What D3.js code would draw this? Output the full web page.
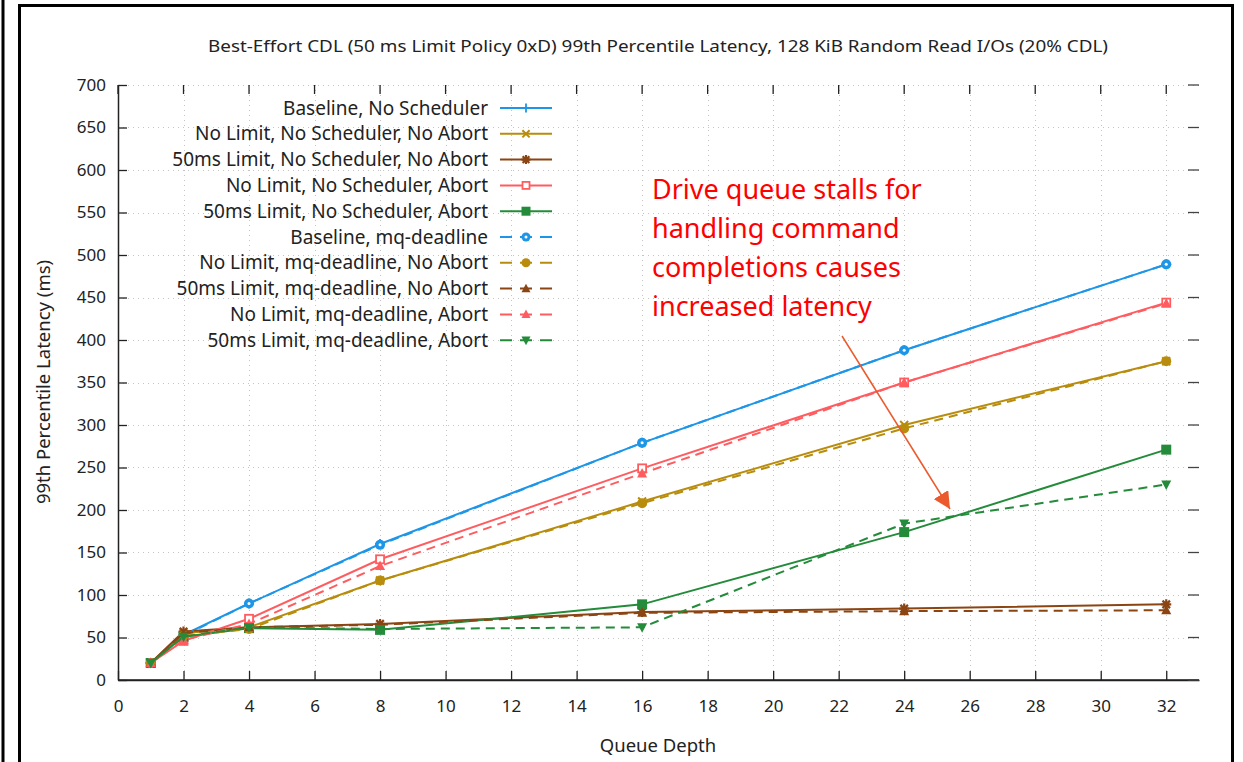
<!DOCTYPE html>
<html>
<head>
<meta charset="utf-8">
<script src="https://cdn.jsdelivr.net/npm/d3@7"></script>
<style>
  body { margin: 0; background: #fff; }
  text { font-family: "Noto Sans", "DejaVu Sans", sans-serif; fill: #222; }
</style>
</head>
<body>
<div class="chart"></div>
<script>
// Queue depths (x values)
const depths = [1, 2, 4, 8, 16, 24, 32];

// 99th percentile latency (ms), one array per series
const baseNoSched = [20, 53, 90, 160, 279, 388, 489];
const noLimNoSchedNoAbort = [20, 55, 62, 117, 210, 300, 375];
const lim50NoSchedNoAbort = [20, 57, 62, 66, 80, 84, 89];
const noLimNoSchedAbort = [20, 46, 72, 142, 249, 350, 444];
const lim50NoSchedAbort = [20, 51, 61, 59, 89, 174, 271];
const baseMq = [20, 52, 90, 159, 279, 388, 489];
const noLimMqNoAbort = [20, 52, 60, 117, 208, 296, 375];
const lim50MqNoAbort = [20, 55, 62, 65, 79, 81, 82];
const noLimMqAbort = [20, 47, 66, 134, 243, 350, 443];
const lim50MqAbort = [20, 51, 62, 60, 62, 184, 230];

const seriesNames = [
  'Baseline, No Scheduler',
  'No Limit, No Scheduler, No Abort',
  '50ms Limit, No Scheduler, No Abort',
  'No Limit, No Scheduler, Abort',
  '50ms Limit, No Scheduler, Abort',
  'Baseline, mq-deadline',
  'No Limit, mq-deadline, No Abort',
  '50ms Limit, mq-deadline, No Abort',
  'No Limit, mq-deadline, Abort',
  '50ms Limit, mq-deadline, Abort',
];
const seriesValues = [
  baseNoSched, noLimNoSchedNoAbort, lim50NoSchedNoAbort, noLimNoSchedAbort, lim50NoSchedAbort,
  baseMq, noLimMqNoAbort, lim50MqNoAbort, noLimMqAbort, lim50MqAbort,
];

// Axis ticks
const xTicks = d3.range(0, 33, 2);
const yTicks = d3.range(0, 701, 50);

// Style per series
const blue = '#1e96e8', gold = '#b88c0c', brown = '#8b4513', pink = '#ff5c60', green = '#238b3a';
const styles = [
  { color: blue, dash: null, marker: 'plus' },
  { color: gold, dash: null, marker: 'cross' },
  { color: brown, dash: null, marker: 'star' },
  { color: pink, dash: null, marker: 'openSquare' },
  { color: green, dash: null, marker: 'square' },
  { color: blue, dash: '9,6', marker: 'openCircle' },
  { color: gold, dash: '9,6', marker: 'circle' },
  { color: brown, dash: '9,6', marker: 'triangle' },
  { color: pink, dash: '9,6', marker: 'triangle' },
  { color: green, dash: '9,6', marker: 'triangleDown' },
];

const width = 1243;
const height = 762;
const margin = { left: 118, right: 1199, top: 85, bottom: 680 };

const svg = d3.select('.chart')
  .append('svg')
  .attr('width', width)
  .attr('height', height);

// Slide frame lines
svg.append('line')
  .attr('x1', 3).attr('x2', 3).attr('y1', 0).attr('y2', height)
  .attr('stroke', '#000').attr('stroke-width', 3);
svg.append('rect')
  .attr('x', 19.5).attr('y', 5.5).attr('width', 1213).attr('height', 770)
  .attr('fill', 'none').attr('stroke', '#000').attr('stroke-width', 3);

const x = d3.scaleLinear().domain([0, 33]).range([margin.left, margin.right]);
const y = d3.scaleLinear().domain([0, 700]).range([margin.bottom, margin.top]);

// Grid
const grid = svg.append('g').attr('stroke', '#c4c4c4').attr('stroke-width', 1)
  .attr('stroke-dasharray', '1,4');
grid.selectAll('line.gx').data(xTicks.slice(1)).enter().append('line')
  .attr('x1', d => Math.round(x(d)) + 0.5).attr('x2', d => Math.round(x(d)) + 0.5)
  .attr('y1', margin.top).attr('y2', margin.bottom);
grid.selectAll('line.gy').data(yTicks.slice(1)).enter().append('line')
  .attr('x1', margin.left).attr('x2', margin.right)
  .attr('y1', d => Math.round(y(d)) + 0.5).attr('y2', d => Math.round(y(d)) + 0.5);

// Axes (left + bottom), ticks mirrored on top + right
const xAxis = svg.append('g')
  .attr('transform', `translate(0,${margin.bottom})`)
  .call(d3.axisBottom(x).tickValues(xTicks).tickSizeInner(-9).tickSizeOuter(0).tickPadding(20));
const yAxis = svg.append('g')
  .attr('transform', `translate(${margin.left},0)`)
  .call(d3.axisLeft(y).tickValues(yTicks).tickSizeInner(-9).tickSizeOuter(0).tickPadding(12));
[xAxis, yAxis].forEach(ax => {
  ax.select('.domain').attr('stroke', '#222').attr('stroke-width', 1.5);
  ax.selectAll('.tick line').attr('stroke', '#222').attr('stroke-width', 1.3);
  ax.selectAll('.tick text').attr('font-size', 17).attr('fill', '#222')
    .attr('font-family', '"Noto Sans", sans-serif');
});
svg.append('line')
  .attr('x1', margin.left).attr('x2', margin.right)
  .attr('y1', margin.bottom).attr('y2', margin.bottom)
  .attr('stroke', '#222').attr('stroke-width', 1.5);
svg.append('g').selectAll('line').data(xTicks).enter().append('line')
  .attr('x1', d => x(d)).attr('x2', d => x(d))
  .attr('y1', margin.top).attr('y2', margin.top + 9)
  .attr('stroke', '#222').attr('stroke-width', 1.3);
svg.append('g').selectAll('line').data(yTicks).enter().append('line')
  .attr('x1', margin.right - 11).attr('x2', margin.right)
  .attr('y1', d => y(d)).attr('y2', d => y(d))
  .attr('stroke', '#444').attr('stroke-width', 1.3);

// Title and axis labels
svg.append('text')
  .attr('x', 658).attr('y', 52)
  .attr('text-anchor', 'middle')
  .attr('font-size', 16)
  .attr('textLength', 900)
  .attr('lengthAdjust', 'spacingAndGlyphs')
  .text('Best-Effort CDL (50 ms Limit Policy 0xD) 99th Percentile Latency, 128 KiB Random Read I/Os (20% CDL)');
svg.append('text')
  .attr('x', 658).attr('y', 752)
  .attr('text-anchor', 'middle')
  .attr('font-size', 18.5)
  .text('Queue Depth');
svg.append('text')
  .attr('transform', 'translate(50,382) rotate(-90)')
  .attr('text-anchor', 'middle')
  .attr('font-size', 18.5)
  .text('99th Percentile Latency (ms)');

// Marker drawing
function drawMarker(g, type, color, size) {
  const s = size / 2;
  if (type === 'plus') {
    g.append('path').attr('d', `M${-s},0H${s}M0,${-s}V${s}`)
      .attr('stroke', color).attr('stroke-width', 1.8).attr('fill', 'none');
  } else if (type === 'cross') {
    g.append('path').attr('d', `M${-s * 0.8},${-s * 0.8}L${s * 0.8},${s * 0.8}M${-s * 0.8},${s * 0.8}L${s * 0.8},${-s * 0.8}`)
      .attr('stroke', color).attr('stroke-width', 2).attr('fill', 'none');
  } else if (type === 'star') {
    g.append('path').attr('d', `M${-s},0H${s}M0,${-s}V${s}M${-s * 0.75},${-s * 0.75}L${s * 0.75},${s * 0.75}M${-s * 0.75},${s * 0.75}L${s * 0.75},${-s * 0.75}`)
      .attr('stroke', color).attr('stroke-width', 2.2).attr('fill', 'none');
  } else if (type === 'openSquare') {
    g.append('rect').attr('x', -s + 1).attr('y', -s + 1).attr('width', size - 2).attr('height', size - 2)
      .attr('stroke', color).attr('stroke-width', 1.8).attr('fill', '#fff');
  } else if (type === 'square') {
    g.append('rect').attr('x', -s).attr('y', -s).attr('width', size).attr('height', size)
      .attr('fill', color);
  } else if (type === 'openCircle') {
    g.append('circle').attr('r', s).attr('fill', color);
    g.append('circle').attr('r', 1.5).attr('fill', '#fff');
  } else if (type === 'circle') {
    g.append('circle').attr('r', s).attr('fill', color);
  } else if (type === 'triangle') {
    g.append('path').attr('d', `M0,${-s * 1.1}L${s},${s * 0.8}L${-s},${s * 0.8}Z`).attr('fill', color);
  } else if (type === 'triangleDown') {
    g.append('path').attr('d', `M0,${s * 1.1}L${s},${-s * 0.8}L${-s},${-s * 0.8}Z`).attr('fill', color);
  }
}

const line = d3.line().x(d => x(d[0])).y(d => y(d[1]));

// Series lines and points
seriesValues.forEach((vals, i) => {
  const st = styles[i];
  const pts = depths.map((d, j) => [d, vals[j]]);
  const g = svg.append('g').attr('class', 'series');
  g.append('path')
    .datum(pts)
    .attr('d', line)
    .attr('fill', 'none')
    .attr('stroke', st.color)
    .attr('stroke-width', 2)
    .attr('stroke-dasharray', st.dash);
  g.selectAll('g.pt').data(pts).enter().append('g')
    .attr('transform', d => `translate(${x(d[0])},${y(d[1])})`)
    .each(function () { drawMarker(d3.select(this), st.marker, st.color, 10); });
});

// Legend
const legend = svg.append('g');
seriesNames.forEach((name, i) => {
  const st = styles[i];
  const ly = 108 + i * 25.8;
  legend.append('text')
    .attr('x', 488).attr('y', ly + 6.5)
    .attr('text-anchor', 'end')
    .attr('font-size', 19)
    .text(name);
  legend.append('line')
    .attr('x1', 500).attr('x2', 552).attr('y1', ly).attr('y2', ly)
    .attr('stroke', st.color).attr('stroke-width', 2)
    .attr('stroke-dasharray', st.dash ? '12,8' : null);
  drawMarker(legend.append('g').attr('transform', `translate(526,${ly})`), st.marker, st.color, 9);
});

// Annotation
const noteLines = ['Drive queue stalls for', 'handling command', 'completions causes', 'increased latency'];
svg.append('g').selectAll('text').data(noteLines).enter().append('text')
  .attr('x', 652).attr('y', (d, i) => 199 + i * 39)
  .attr('font-size', 27)
  .attr('font-family', '"Open Sans", sans-serif')
  .style('fill', '#ff0000')
  .text(d => d);

svg.append('defs').append('marker')
  .attr('id', 'head')
  .attr('viewBox', '0 0 10 10')
  .attr('refX', 10).attr('refY', 5)
  .attr('markerWidth', 17).attr('markerHeight', 17)
  .attr('markerUnits', 'userSpaceOnUse')
  .attr('orient', 'auto')
  .append('path').attr('d', 'M0,0L10,5L0,10Z').attr('fill', '#ea5a2c');
svg.append('line')
  .attr('x1', 842).attr('y1', 336).attr('x2', 950).attr('y2', 509)
  .attr('stroke', '#ea5a2c').attr('stroke-width', 1.5)
  .attr('marker-end', 'url(#head)');
</script>
</body>
</html>
